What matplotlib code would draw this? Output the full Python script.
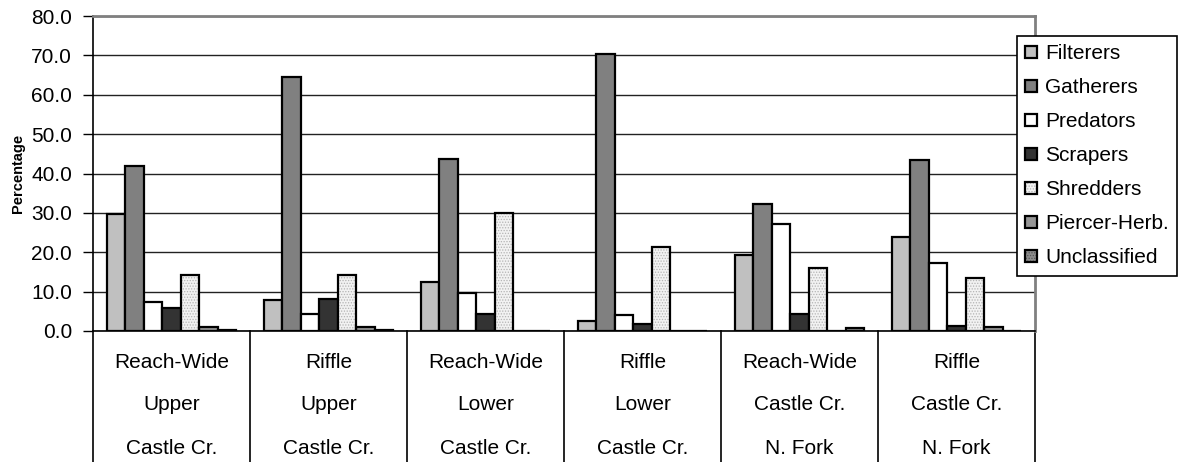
import numpy as np
import matplotlib
matplotlib.use('Agg')
import matplotlib.pyplot as plt
import matplotlib.patches as mpatches
import matplotlib.transforms as mtransforms
from matplotlib.legend_handler import HandlerTuple

plt.rcParams['font.family'] = ['Liberation Sans', 'DejaVu Sans']
plt.rcParams['hatch.linewidth'] = 0.6

# [1] 데이터 준비
site_type = ['Reach-Wide', 'Riffle', 'Reach-Wide', 'Riffle', 'Reach-Wide', 'Riffle']
site_reach = ['Upper', 'Upper', 'Lower', 'Lower', 'Castle Cr.', 'Castle Cr.']
site_creek = ['Castle Cr.', 'Castle Cr.', 'Castle Cr.', 'Castle Cr.', 'N. Fork', 'N. Fork']

groups = ['Filterers', 'Gatherers', 'Predators', 'Scrapers', 'Shredders',
          'Piercer-Herb.', 'Unclassified']
filterers = [29.8, 8.0, 12.4, 2.5, 19.4, 23.9]
gatherers = [41.8, 64.6, 43.7, 70.4, 32.3, 43.4]
predators = [7.3, 4.2, 9.6, 4.0, 27.2, 17.2]
scrapers = [5.8, 8.1, 4.3, 1.9, 4.4, 1.3]
shredders = [14.1, 14.1, 30.0, 21.3, 15.9, 13.5]
piercer = [1.0, 0.9, 0.0, 0.0, 0.0, 1.0]
unclassified = [0.3, 0.3, 0.0, 0.0, 0.8, 0.0]
series = [filterers, gatherers, predators, scrapers, shredders, piercer, unclassified]

# 색 / 무늬 (face, hatch, hatch color)
styles = [('#C0C0C0', None, None),
          ('#808080', None, None),
          ('#FFFFFF', None, None),
          ('#333333', None, None),
          ('#F2F2F2', '......', '#B4B4B4'),
          ('#969696', None, None),
          ('#8C8C8C', '......', '#555555')]

# [2] 그래프
fig = plt.figure(figsize=(11.78, 4.62), dpi=100)
ax = fig.add_axes([93 / 1178, 131 / 462, 942 / 1178, 315 / 462])

x = np.arange(len(site_type))
w = 0.118

handles = []
for j, (vals, (fc, hatch, hc)) in enumerate(zip(series, styles)):
    pos = x + (j - 3) * w
    if hatch:
        ax.bar(pos, vals, w, color=fc, hatch=hatch, edgecolor=hc, linewidth=0, zorder=3)
        ax.bar(pos, vals, w, facecolor='none', edgecolor='black', linewidth=1.6, zorder=4)
        h = (mpatches.Patch(facecolor=fc, hatch=hatch, edgecolor=hc, linewidth=0),
             mpatches.Patch(facecolor='none', edgecolor='black', linewidth=1.6))
    else:
        ax.bar(pos, vals, w, color=fc, edgecolor='black', linewidth=1.6, zorder=3)
        h = mpatches.Patch(facecolor=fc, edgecolor='black', linewidth=1.6)
    handles.append(h)

ax.set_xlim(-0.5, len(site_type) - 0.5)
ax.set_ylim(0, 80)
ax.set_yticks(np.arange(0, 81, 10))
ax.set_yticklabels([f'{v:.1f}' for v in np.arange(0, 81, 10)], fontsize=15)
ax.tick_params(axis='y', length=7, width=1, pad=8)
ax.set_xticks([])
ax.yaxis.grid(True, color='#222222', linewidth=1)
ax.set_axisbelow(True)

for s in ['top', 'right']:
    ax.spines[s].set_color('#808080')
    ax.spines[s].set_linewidth(2)
ax.spines['left'].set_linewidth(1.2)
ax.spines['bottom'].set_linewidth(1.2)

ax.set_ylabel('Percentage', fontsize=10.5, fontweight='bold')
ax.yaxis.set_label_coords(-0.072, 0.5)

# 카테고리 라벨 (3단) + 구분선
trans = mtransforms.blended_transform_factory(ax.transData, ax.transAxes)
bottom = -131 / 315
for b in np.arange(-0.5, len(site_type)):
    ax.plot([b, b], [0, bottom], color='black', linewidth=1.2,
            transform=trans, clip_on=False)
for i in range(len(site_type)):
    for k, row in enumerate([site_type, site_reach, site_creek]):
        ax.text(x[i], -(31 + 43 * k) / 315, row[i], transform=trans,
                ha='center', va='center', fontsize=15)

leg = fig.legend(handles, groups, loc='upper left',
                 bbox_to_anchor=(1017 / 1178, 1 - 36 / 462),
                 borderaxespad=0,
                 fontsize=15, frameon=True, fancybox=False,
                 handlelength=0.56, handleheight=0.56, handletextpad=0.4,
                 labelspacing=0.72, borderpad=0.4,
                 handler_map={tuple: HandlerTuple(ndivide=1)})
leg.get_frame().set_edgecolor('black')
leg.get_frame().set_linewidth(1.2)
leg.get_frame().set_alpha(1)

fig.savefig('out.png', dpi=100)
